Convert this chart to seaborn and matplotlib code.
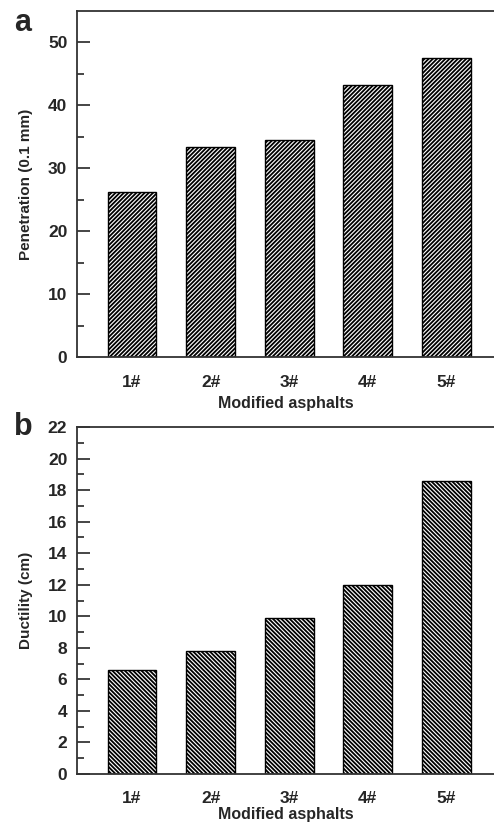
import matplotlib
matplotlib.use("Agg")
import matplotlib.pyplot as plt
import seaborn as sns
import pandas as pd

categories = ["1#", "2#", "3#", "4#", "5#"]
penetration = [26.2, 33.3, 34.5, 43.3, 47.6]
ductility = [6.6, 7.8, 9.9, 12.0, 18.6]
pen_ticks = [0, 10, 20, 30, 40, 50]
duc_ticks = [0, 2, 4, 6, 8, 10, 12, 14, 16, 18, 20, 22]

sns.set_theme(style="ticks")
plt.rcParams['font.family'] = ['Liberation Sans', 'DejaVu Sans']
plt.rcParams['font.weight'] = 'bold'
plt.rcParams['hatch.linewidth'] = 1.3

fig = plt.figure(figsize=(4.94, 8.25), dpi=100)
ax1 = fig.add_axes([0.156, 0.5673, 0.846, 0.4194])
ax2 = fig.add_axes([0.156, 0.0618, 0.846, 0.4206])

def draw(ax, vals, hatch, ylabel, ymax, ticks, minor, xpad, lpad):
    df = pd.DataFrame({"cat": categories, "val": vals})
    sns.barplot(data=df, x="cat", y="val", ax=ax, color="white",
                edgecolor="black", linewidth=1.0, width=0.62)
    for p in ax.patches:
        p.set_hatch(hatch)
        p.set_facecolor("white")
    ax.set_xlim(-0.7, 4.62)
    ax.set_ylim(0, ymax)
    ax.set_yticks(ticks)
    ax.set_yticks(minor, minor=True)
    ax.tick_params(axis='y', which='major', direction='in', length=9.5, width=1.2,
                   labelsize=12.5, pad=7)
    ax.tick_params(axis='y', which='minor', direction='in', length=5, width=1.2)
    ax.tick_params(axis='x', length=0, labelsize=12.5, pad=xpad)
    for lab in ax.get_xticklabels() + ax.get_yticklabels():
        lab.set_fontweight('bold')
    ax.set_xlabel("Modified asphalts", fontsize=11.5, fontweight='bold', labelpad=lpad)
    ax.set_ylabel(ylabel, fontsize=11, fontweight='bold', labelpad=11)
    for s in ["left", "top", "bottom"]:
        ax.spines[s].set_linewidth(1.3)
        ax.spines[s].set_color("#333333")
    ax.spines["right"].set_visible(False)

draw(ax1, penetration, "////////", "Penetration (0.1 mm)", 55, pen_ticks,
     [5, 15, 25, 35, 45], 13, 4)
draw(ax2, ductility, "\\\\\\\\\\\\\\\\", "Ductility (cm)", 22, duc_ticks,
     [1, 3, 5, 7, 9, 11, 13, 15, 17, 19, 21], 12, 1)
fig.text(0.028, 0.972, "a", fontsize=22, fontweight='bold', ha='left', va='center')
fig.text(0.028, 0.483, "b", fontsize=22, fontweight='bold', ha='left', va='center')

fig.savefig("out.png", dpi=100)
